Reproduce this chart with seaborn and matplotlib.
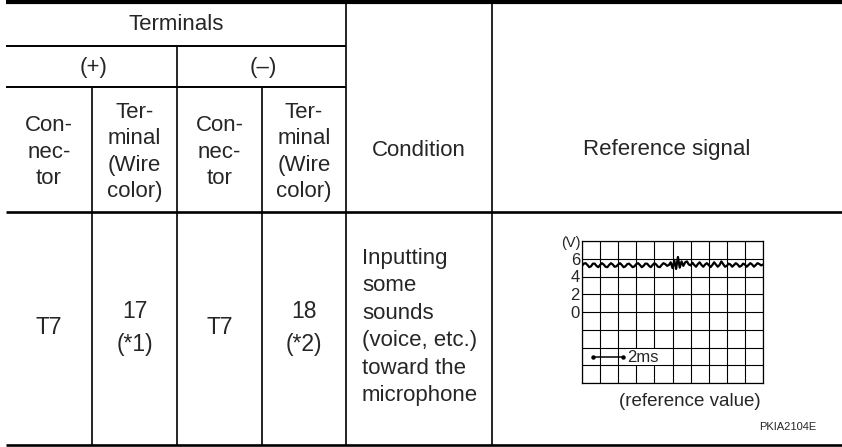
import numpy as np
import matplotlib
matplotlib.use("Agg")
import matplotlib.pyplot as plt
import seaborn as sns

# Table text
HEADER_TOP = "Terminals"
POLARITY = ["(+)", "(–)"]
SUB_HEADERS = ["Con-\nnec-\ntor", "Ter-\nminal\n(Wire\ncolor)",
               "Con-\nnec-\ntor", "Ter-\nminal\n(Wire\ncolor)"]
COND_HEADER = "Condition"
SIGNAL_HEADER = "Reference signal"
ROW_CELLS = ["T7", "17\n(*1)", "T7", "18\n(*2)"]
CONDITION = "Inputting\nsome\nsounds\n(voice, etc.)\ntoward the\nmicrophone"

# Oscilloscope trace (V), one sample every 0.1 division
SIGNAL_V = [5.2, 5.45, 5.5, 5.3, 5.05, 5.15, 5.45, 5.45, 5.2, 5.05,
            5.3, 5.5, 5.35, 5.1, 5.05, 5.3, 5.5, 5.35, 5.1, 5.15,
            5.35, 5.5, 5.3, 5.05, 5.15, 5.4, 5.45, 5.25, 5.05, 5.15,
            5.4, 5.5, 5.3, 5.05, 5.2, 5.45, 5.45, 5.2, 5.05, 5.3,
            5.5, 5.35, 5.1, 5.05, 5.3, 5.5, 5.4, 5.2, 5.3, 5.6,
            4.95, 5.8, 4.85, 6.2, 5.0, 5.7, 5.2, 5.6, 5.7, 5.35,
            5.25, 5.55, 5.3, 5.1, 5.4, 5.6, 5.3, 5.1, 5.35, 5.5,
            5.3, 5.05, 5.3, 5.6, 5.35, 5.1, 5.3, 5.7, 5.4, 5.1,
            5.2, 5.45, 5.35, 5.1, 5.3, 5.5, 5.35, 5.1, 5.2, 5.45,
            5.35, 5.1, 5.3, 5.5, 5.35, 5.1, 5.3, 5.5, 5.4, 5.25, 5.35]
SAMPLE_STEP = 0.1
V_LABELS = ["6", "4", "2", "0"]

sns.set_style("white")
plt.rcParams['font.family'] = ['Liberation Sans', 'DejaVu Sans']

W, H = 842, 447
fig = plt.figure(figsize=(W / 100, H / 100), dpi=100)
ax = fig.add_axes([0, 0, 1, 1])
ax.set_xlim(0, W)
ax.set_ylim(H, 0)
ax.axis('off')

# column edges / row edges in pixels
cols = [6, 92, 177, 262, 346, 492, 842]
y_top, y_r1, y_r2, y_head, y_bot = 2, 46, 87, 212, 445

# horizontal rules
ax.hlines(y_top, cols[0], W, color='black', lw=3)
ax.hlines([y_r1, y_r2], cols[0], cols[4], color='black', lw=1.4)
ax.hlines(y_head, cols[0], W, color='black', lw=1.9)
ax.hlines(y_bot, cols[0], W, color='black', lw=1.9)
# vertical rules
ax.vlines([cols[1], cols[3]], y_r2, y_bot, color='black', lw=1.2)
ax.vlines(cols[2], y_r1, y_bot, color='black', lw=1.2)
ax.vlines([cols[4], cols[5]], y_top, y_bot, color='black', lw=1.2)

fs = 16
ax.text((cols[0] + cols[4]) / 2, 24, HEADER_TOP, ha='center', va='center', fontsize=fs)
ax.text((cols[0] + cols[2]) / 2 + 2, 67, POLARITY[0], ha='center', va='center', fontsize=fs)
ax.text((cols[2] + cols[4]) / 2 + 2, 67, POLARITY[1], ha='center', va='center', fontsize=fs)
for i, txt in enumerate(SUB_HEADERS):
    ax.text((cols[i] + cols[i + 1]) / 2, 152, txt, ha='center', va='center',
            fontsize=fs, linespacing=1.35)
ax.text((cols[4] + cols[5]) / 2, 150, COND_HEADER, ha='center', va='center', fontsize=fs)
ax.text((cols[5] + cols[6]) / 2, 150, SIGNAL_HEADER, ha='center', va='center', fontsize=fs)

for i, txt in enumerate(ROW_CELLS):
    ax.text((cols[i] + cols[i + 1]) / 2, 328, txt, ha='center', va='center',
            fontsize=16.5, linespacing=1.5)
ax.text(362, 327, CONDITION, ha='left', va='center', fontsize=fs, linespacing=1.4)

# oscilloscope inset
gx0, gx1, gy0, gy1 = 582, 763, 241, 383
ax_sig = fig.add_axes([gx0 / W, 1 - gy1 / H, (gx1 - gx0) / W, (gy1 - gy0) / H])
ax_sig.set_facecolor('none')
t = np.arange(len(SIGNAL_V)) * SAMPLE_STEP
sns.lineplot(x=t, y=SIGNAL_V, ax=ax_sig, color='black', lw=1.6)
ax_sig.set_xlim(0, 10)
ax_sig.set_ylim(-8, 8)
ax_sig.set_xticks(range(11))
ax_sig.set_xticklabels([])
ax_sig.set_yticks(range(-8, 9, 2))
ax_sig.set_yticklabels(['' if str(v) not in V_LABELS else str(v) for v in range(-8, 9, 2)],
                       fontsize=12)
ax_sig.tick_params(length=0, pad=1.5)
ax_sig.grid(True, color='black', lw=0.8)
for s in ax_sig.spines.values():
    s.set_color('black')
    s.set_linewidth(0.9)
ax_sig.set_xlabel('')
ax_sig.set_ylabel('')

ax.text(581, 243, "(V)", ha='right', va='center', fontsize=10.5)
# time-scale marker drawn in the scope axes (pixel coords of the page axes)
ax_sig.plot([593, 623], [357, 357], transform=ax.transData, color='black', lw=1.1,
            marker='o', markersize=2.2, zorder=5, clip_on=False)
ax_sig.text(627, 357, "2ms", transform=ax.transData, ha='left', va='center',
            fontsize=12, zorder=5, bbox=dict(facecolor='white', edgecolor='none', pad=0.5))
ax.text(690, 402, "(reference value)", ha='center', va='center', fontsize=13.5)
ax.text(816, 427, "PKIA2104E", ha='right', va='center', fontsize=8)

plt.savefig('out.png', dpi=100)
